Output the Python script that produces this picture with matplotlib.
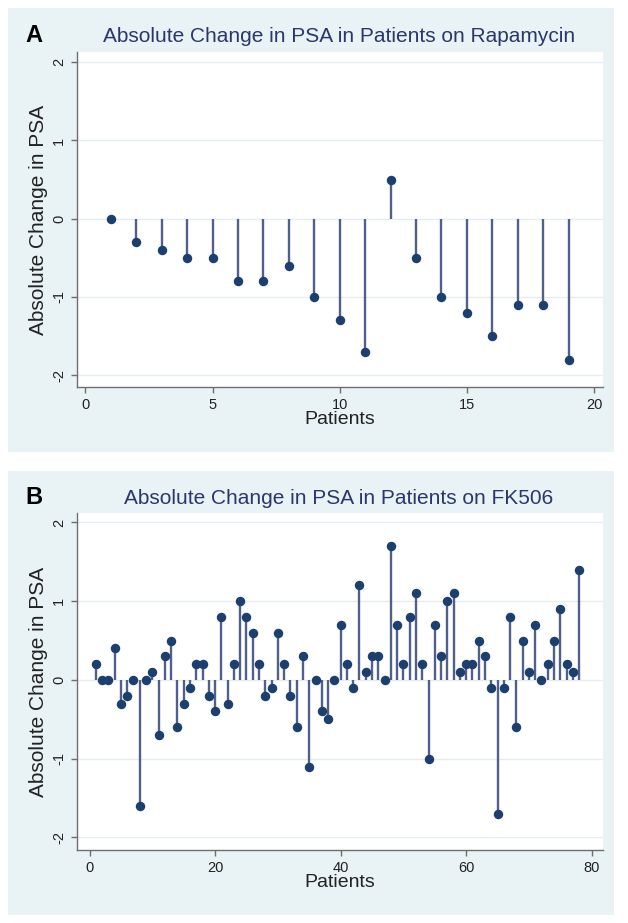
import matplotlib
matplotlib.use("Agg")
import matplotlib.pyplot as plt

plt.rcParams['font.family'] = ['Liberation Sans', 'DejaVu Sans']

# ---- data ----
rapa_patients = list(range(1, 20))
rapa_change = [0.0, -0.3, -0.4, -0.5, -0.5, -0.8, -0.8, -0.6, -1.0, -1.3,
               -1.7, 0.5, -0.5, -1.0, -1.2, -1.5, -1.1, -1.1, -1.8]

fk_patients = list(range(1, 79))
fk_change = [0.2, 0.0, 0.0, 0.4, -0.3, -0.2, 0.0, -1.6, 0.0, 0.1,
             -0.7, 0.3, 0.5, -0.6, -0.3, -0.1, 0.2, 0.2, -0.2, -0.4,
             0.8, -0.3, 0.2, 1.0, 0.8, 0.6, 0.2, -0.2, -0.1, 0.6,
             0.2, -0.2, -0.6, 0.3, -1.1, 0.0, -0.4, -0.5, 0.0, 0.7,
             0.2, -0.1, 1.2, 0.1, 0.3, 0.3, 0.0, 1.7, 0.7, 0.2,
             0.8, 1.1, 0.2, -1.0, 0.7, 0.3, 1.0, 1.1, 0.1, 0.2,
             0.2, 0.5, 0.3, -0.1, -1.7, -0.1, 0.8, -0.6, 0.5, 0.1,
             0.7, 0.0, 0.2, 0.5, 0.9, 0.2, 0.1, 1.4]

yticks = [-2, -1, 0, 1, 2]
xticks_a = [0, 5, 10, 15, 20]
xticks_b = [0, 20, 40, 60, 80]
titles = ["Absolute Change in PSA in Patients on Rapamycin",
          "Absolute Change in PSA in Patients on FK506"]
panel_labels = ["A", "B"]
ylabel = "Absolute Change in PSA"
xlabel = "Patients"

# ---- style ----
W, H = 628, 923
BG = "#e9f2f4"
GRID = "#e4eef1"
STEM = "#51608a"
DOT = "#1b3f6e"
TITLE_C = "#2a376c"
AX_C = "#6e6e6e"

fig = plt.figure(figsize=(W / 100, H / 100), dpi=100)
fig.patch.set_facecolor("white")


def fx(px):
    return px / W


def fy(py):
    return 1 - py / H


def panel(bg_box, ax_box, xs, ys, xlim, ylim, xticks, title, label, title_y, title_x):
    x0, y0, x1, y1 = bg_box
    bg = fig.add_axes([fx(x0), fy(y1), fx(x1 - x0), (y1 - y0) / H], zorder=0)
    bg.set_facecolor(BG)
    bg.set_xticks([])
    bg.set_yticks([])
    for s in bg.spines.values():
        s.set_visible(False)
    a0, b0, a1, b1 = ax_box
    ax = fig.add_axes([fx(a0), fy(b1), fx(a1 - a0), (b1 - b0) / H], zorder=1)
    ax.set_facecolor("white")
    ax.vlines(xs, 0, ys, color=STEM, linewidth=1.7, zorder=2)
    ax.plot(xs, ys, 'o', color=DOT, markersize=5.8, zorder=3)
    ax.set_xlim(*xlim)
    ax.set_ylim(*ylim)
    ax.set_xticks(xticks)
    ax.set_yticks(yticks)
    ax.set_yticklabels([str(t) for t in yticks], rotation=90, va="center")
    ax.grid(axis="y", color=GRID, linewidth=1.0)
    ax.set_axisbelow(True)
    for s in ["top", "right"]:
        ax.spines[s].set_visible(False)
    for s in ["left", "bottom"]:
        ax.spines[s].set_color(AX_C)
        ax.spines[s].set_linewidth(1.0)
    ax.tick_params(axis="both", colors=AX_C, labelcolor="#222222",
                   labelsize=10.5, length=4, width=1.0, direction="out", pad=4)
    ax.set_ylabel(ylabel, fontsize=15, color="#222222", labelpad=3)
    ax.set_xlabel(xlabel, fontsize=14, color="#222222", labelpad=-1)
    fig.text(fx(title_x), fy(title_y), title, ha="center", va="center",
             fontsize=15, color=TITLE_C, zorder=5)
    fig.text(fx(25), fy(title_y), label, ha="left", va="center",
             fontsize=17, fontweight="bold", color="black", zorder=5)
    return ax


panel((8, 8, 614, 452), (77, 52, 603, 387), rapa_patients, rapa_change,
      (-0.33, 20.35), (-2.15, 2.13), xticks_a, titles[0], panel_labels[0], 36, 339)
panel((8, 471, 614, 915), (77, 513, 603, 850), fk_patients, fk_change,
      (-2.0, 81.8), (-2.16, 2.12), xticks_b, titles[1], panel_labels[1], 498, 339)

fig.savefig("out.png", dpi=100, facecolor="white")
